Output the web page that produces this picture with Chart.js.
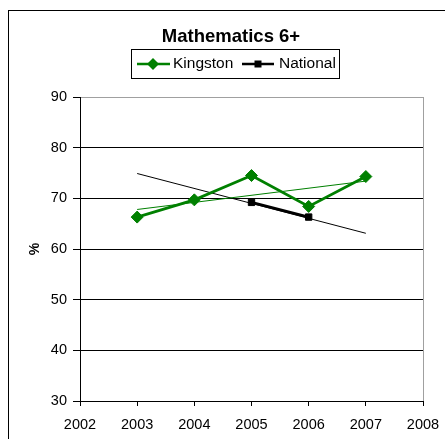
<!DOCTYPE html>
<html>
<head>
<meta charset="utf-8">
<script src="https://cdn.jsdelivr.net/npm/chart.js@4/dist/chart.umd.min.js"></script>
<style>
  html, body { margin: 0; padding: 0; background: #fff; }
  canvas { display: block; }
</style>
</head>
<body>
<canvas id="chart" width="445" height="439"></canvas>
<script>
// values
const years = [2003, 2004, 2005, 2006, 2007];
const kingston = [66.3, 69.7, 74.5, 68.4, 74.3];
const nationalYears = [2005, 2006];
const national = [69.2, 66.3];
// linear trend lines (end points as seen in the picture)
const trendYears = [2003, 2007];
const kingstonTrend = [67.8, 73.4];
const nationalTrend = [74.9, 63.1];
const seriesNames = ['Kingston', 'National'];
const chartTitle = 'Mathematics 6+';
const yTitle = '%';

const GREEN = '#008000';
const FONT = "'Liberation Sans', Arial, sans-serif";

const toPoints = (xs, ys) => xs.map((x, i) => ({ x: x, y: ys[i] }));

// white background, outer frame, title and boxed legend (Excel look)
const decorations = {
    id: 'decorations',
    beforeDraw(chart) {
        const ctx = chart.ctx;
        ctx.save();
        ctx.fillStyle = '#fff';
        ctx.fillRect(0, 0, chart.width, chart.height);
        ctx.strokeStyle = '#000';
        ctx.lineWidth = 1;
        ctx.strokeRect(8.5, 10.5, chart.width + 20, chart.height + 20);
        ctx.restore();
    },
    afterDraw(chart) {
        const ctx = chart.ctx;
        ctx.save();
        ctx.fillStyle = '#000';
        ctx.textAlign = 'center';
        ctx.textBaseline = 'middle';
        ctx.font = 'bold 18.5px ' + FONT;
        ctx.fillText(chartTitle, 231, 37);

        // legend box
        ctx.strokeStyle = '#000';
        ctx.lineWidth = 1;
        ctx.strokeRect(131.5, 49.5, 208, 29);
        ctx.font = '15.5px ' + FONT;
        ctx.textAlign = 'left';
        const y = 64;

        // Kingston sample
        ctx.strokeStyle = GREEN;
        ctx.lineWidth = 2.5;
        ctx.beginPath();
        ctx.moveTo(137, y); ctx.lineTo(170, y);
        ctx.stroke();
        ctx.fillStyle = GREEN;
        ctx.beginPath();
        ctx.moveTo(153, y - 6); ctx.lineTo(159, y); ctx.lineTo(153, y + 6); ctx.lineTo(147, y);
        ctx.closePath();
        ctx.fill();
        ctx.fillStyle = '#000';
        ctx.fillText(seriesNames[0], 173, y);

        // National sample
        ctx.strokeStyle = '#000';
        ctx.beginPath();
        ctx.moveTo(242, y); ctx.lineTo(274, y);
        ctx.stroke();
        ctx.fillRect(254.5, y - 3.5, 7, 7);
        ctx.fillText(seriesNames[1], 279, y);
        ctx.restore();
    }
};

new Chart(document.getElementById('chart'), {
    type: 'scatter',
    data: {
        datasets: [
            {
                label: seriesNames[0],
                data: toPoints(years, kingston),
                showLine: true,
                borderColor: GREEN,
                backgroundColor: GREEN,
                borderWidth: 2.8,
                pointStyle: 'rectRot',
                pointRadius: 6,
                pointBorderWidth: 1,
                pointHoverRadius: 6
            },
            {
                label: seriesNames[1],
                data: toPoints(nationalYears, national),
                showLine: true,
                borderColor: '#000',
                backgroundColor: '#000',
                borderWidth: 2.8,
                pointStyle: 'rect',
                pointRadius: 4.5,
                pointBorderWidth: 1,
                pointHoverRadius: 4.5
            },
            {
                label: 'Kingston trend',
                data: toPoints(trendYears, kingstonTrend),
                showLine: true,
                borderColor: GREEN,
                borderWidth: 1,
                pointRadius: 0,
                pointHoverRadius: 0
            },
            {
                label: 'National trend',
                data: toPoints(trendYears, nationalTrend),
                showLine: true,
                borderColor: '#000',
                borderWidth: 1,
                pointRadius: 0,
                pointHoverRadius: 0
            }
        ]
    },
    options: {
        responsive: false,
        animation: false,
        events: [],
        layout: { padding: { top: 97, right: 22, left: 0, bottom: 0 } },
        plugins: {
            legend: { display: false },
            title: { display: false },
            tooltip: { enabled: false }
        },
        scales: {
            x: {
                type: 'linear',
                min: 2002,
                max: 2008,
                afterFit: scale => {
                    scale.height = 38;
                    scale.paddingLeft = 0;
                    scale.paddingRight = 0;
                },
                ticks: {
                    stepSize: 1,
                    autoSkip: false,
                    maxRotation: 0,
                    padding: 10,
                    color: '#000',
                    font: { family: FONT, size: 14.5 },
                    callback: v => String(v)
                },
                grid: {
                    color: c => (c.tick && c.tick.value === 2008) ? '#a0a0a0' : 'rgba(0,0,0,0)',
                    tickColor: '#000',
                    tickLength: 5,
                    lineWidth: 1
                },
                border: { color: '#000', width: 1 }
            },
            y: {
                min: 30,
                max: 90,
                afterFit: scale => { scale.width = 80; },
                ticks: {
                    stepSize: 10,
                    padding: 6,
                    color: '#000',
                    font: { family: FONT, size: 14.5 }
                },
                grid: {
                    color: c => (c.tick && c.tick.value === 90) ? '#a0a0a0' : '#000',
                    tickColor: '#000',
                    tickLength: 7,
                    lineWidth: 1
                },
                border: { color: '#000', width: 1 },
                title: {
                    display: true,
                    text: yTitle,
                    color: '#000',
                    font: { family: FONT, size: 14, weight: 'bold' },
                    padding: { top: 27, bottom: 0 }
                }
            }
        }
    },
    plugins: [decorations]
});
</script>
</body>
</html>
